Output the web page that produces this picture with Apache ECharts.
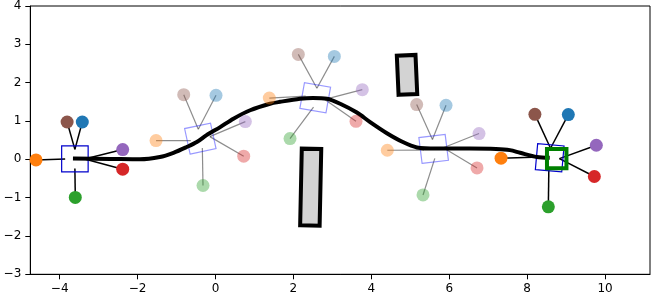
<!DOCTYPE html>
<html>
<head>
<meta charset="utf-8">
<script src="https://cdn.jsdelivr.net/npm/echarts@6/dist/echarts.min.js"></script>
<style>html,body{margin:0;padding:0;background:#fff}#c{width:653px;height:298px}</style>
</head>
<body>
<div id="c"></div>
<script>
// ---- data ----
const xTicks = [-4, -2, 0, 2, 4, 6, 8, 10];
const yTicks = [-3, -2, -1, 0, 1, 2, 3, 4];

const pathX = [-3.66, -2.70, -1.94, -1.43, -1.08, -0.74, -0.48, -0.23, 0.12, 0.46, 0.89, 1.40, 1.66, 2.17, 2.50, 2.86, 3.20, 3.63, 3.97, 4.40, 4.81, 5.17, 5.68, 6.53, 7.20, 7.56, 7.82, 8.25, 8.58];
const pathY = [0.02, 0.01, 0.00, 0.06, 0.17, 0.32, 0.45, 0.63, 0.84, 1.06, 1.28, 1.45, 1.50, 1.58, 1.60, 1.58, 1.45, 1.22, 0.97, 0.68, 0.45, 0.31, 0.28, 0.28, 0.27, 0.24, 0.17, 0.06, 0.04];

const robotX = [-3.61, -0.39, 2.56, 5.60, 8.58];
const robotY = [0.01, 0.54, 1.607, 0.271, 0.039];
const robotAngle = [0, 12, -10, 7, -5];
const robotAlpha = [1, 0.4, 0.4, 0.4, 1];
const robotSize = 0.68;

const sensorBrown  = [[-3.81, 0.974], [-0.816, 1.687], [2.126, 2.737], [5.165, 1.427], [8.20, 1.174]];
const sensorBlue   = [[-3.42, 0.974], [0.013, 1.669], [3.051, 2.685], [5.918, 1.409], [9.058, 1.166]];
const sensorPurple = [[-2.383, 0.255], [0.766, 0.984], [3.769, 1.818], [6.765, 0.672], [9.777, 0.367]];
const sensorRed    = [[-2.383, -0.258], [0.724, 0.081], [3.607, 0.992], [6.714, -0.224], [9.726, -0.448]];
const sensorOrange = [[-4.608, -0.016], [-1.527, 0.489], [1.381, 1.599], [4.411, 0.237], [7.331, 0.029]];
const sensorGreen  = [[-3.60, -0.995], [-0.321, -0.683], [1.913, 0.542], [5.327, -0.93], [8.545, -1.24]];

// obstacles: center x, center y, width, height, angle
const obstacleX = [2.444, 4.917];
const obstacleY = [-0.727, 2.203];
const obstacleW = [0.5, 0.48];
const obstacleH = [2.0, 1.02];
const obstacleAngle = [-1.2, 2.5];

const goal = [8.76, 0.02, 0.5];

// ---- build ----
const sensors = [
  {data: sensorBrown,  color: '#8c564b', mount: [0, 0.25]},
  {data: sensorBlue,   color: '#1f77b4', mount: [0, 0.25]},
  {data: sensorPurple, color: '#9467bd', mount: [0.25, 0]},
  {data: sensorRed,    color: '#d62728', mount: [0.25, 0]},
  {data: sensorOrange, color: '#ff7f0e', mount: [-0.25, 0]},
  {data: sensorGreen,  color: '#2ca02c', mount: [0, -0.25]}
];

function rot(dx, dy, ang) {
  const a = ang * Math.PI / 180, c = Math.cos(a), s = Math.sin(a);
  return [dx * c - dy * s, dx * s + dy * c];
}
function rectPts(api, cx, cy, w, h, ang) {
  return [[-w/2, -h/2], [w/2, -h/2], [w/2, h/2], [-w/2, h/2]].map(function (p) {
    const r = rot(p[0], p[1], ang);
    return api.coord([cx + r[0], cy + r[1]]);
  });
}

const lineItems = [];
sensors.forEach(function (s) {
  s.data.forEach(function (d, i) {
    lineItems.push([robotX[i], robotY[i], robotAngle[i], d[0], d[1], s.mount[0], s.mount[1], robotAlpha[i]]);
  });
});

const series = [];
series.push({
  type: 'custom', z: 1, silent: true,
  data: lineItems,
  renderItem: function (params, api) {
    const cx = api.value(0), cy = api.value(1), ang = api.value(2);
    const m = rot(api.value(5), api.value(6), ang);
    const p1 = api.coord([cx + m[0], cy + m[1]]);
    const p2 = api.coord([api.value(3), api.value(4)]);
    const solid = api.value(7) >= 1;
    return {type: 'line', shape: {x1: p1[0], y1: p1[1], x2: p2[0], y2: p2[1]},
      style: {stroke: solid ? '#000' : 'rgba(0,0,0,0.45)', lineWidth: solid ? 1.5 : 1.2}};
  }
});
series.push({
  type: 'custom', z: 2, silent: true,
  data: robotX.map(function (x, i) { return [x, robotY[i], robotAngle[i], robotAlpha[i]]; }),
  renderItem: function (params, api) {
    const pts = rectPts(api, api.value(0), api.value(1), robotSize, robotSize, api.value(2));
    return {type: 'polygon', shape: {points: pts},
      style: {fill: 'none', stroke: api.value(3) >= 1 ? '#0000cc' : 'rgba(0,0,255,0.4)', lineWidth: 1.2}};
  }
});
series.push({
  type: 'line', z: 3, silent: true,
  data: pathX.map(function (x, i) { return [x, pathY[i]]; }),
  smooth: 0.3, symbol: 'none',
  lineStyle: {color: '#000', width: 4, cap: 'butt'}
});
sensors.forEach(function (s) {
  series.push({
    type: 'scatter', z: 4, silent: true,
    symbolSize: 13,
    data: s.data.map(function (d, i) { return {value: d, itemStyle: {opacity: robotAlpha[i] >= 1 ? 1 : 0.4}}; }),
    itemStyle: {color: s.color}
  });
});
series.push({
  type: 'custom', z: 5, silent: true,
  data: obstacleX.map(function (x, i) { return [x, obstacleY[i], obstacleW[i], obstacleH[i], obstacleAngle[i]]; }),
  renderItem: function (params, api) {
    const pts = rectPts(api, api.value(0), api.value(1), api.value(2), api.value(3), api.value(4));
    return {type: 'polygon', shape: {points: pts},
      style: {fill: '#d3d3d3', stroke: '#000', lineWidth: 4, lineJoin: 'miter'}};
  }
});
series.push({
  type: 'custom', z: 6, silent: true,
  data: [goal],
  renderItem: function (params, api) {
    const pts = rectPts(api, api.value(0), api.value(1), api.value(2), api.value(2), 0);
    return {type: 'polygon', shape: {points: pts},
      style: {fill: 'none', stroke: '#008000', lineWidth: 4, lineJoin: 'miter'}};
  }
});

const fmt = function (v) { return String(v).replace('-', '\u2212'); };
const axisFont = {color: '#000', fontSize: 12, fontFamily: 'DejaVu Sans'};

const chart = echarts.init(document.getElementById('c'), null, {renderer: 'canvas'});
chart.setOption({
  animation: false,
  grid: {left: 30.3, right: 3, top: 5.5, bottom: 23.7, show: true, borderColor: '#000', borderWidth: 1, backgroundColor: 'transparent'},
  xAxis: {
    type: 'value', min: -4.755, max: 11.155,
    axisLine: {show: true, onZero: false, lineStyle: {color: '#000', width: 1}},
    axisTick: {show: true, length: 5, lineStyle: {color: '#000'}, customValues: xTicks},
    axisLabel: Object.assign({margin: 9, formatter: fmt, customValues: xTicks}, axisFont),
    splitLine: {show: false}
  },
  yAxis: {
    type: 'value', min: -3, max: 4, interval: 1,
    axisLine: {show: true, onZero: false, lineStyle: {color: '#000', width: 1}},
    axisTick: {show: true, length: 5, lineStyle: {color: '#000'}, customValues: yTicks},
    axisLabel: Object.assign({margin: 9, formatter: fmt, customValues: yTicks}, axisFont),
    splitLine: {show: false}
  },
  series: series
});
</script>
</body>
</html>
